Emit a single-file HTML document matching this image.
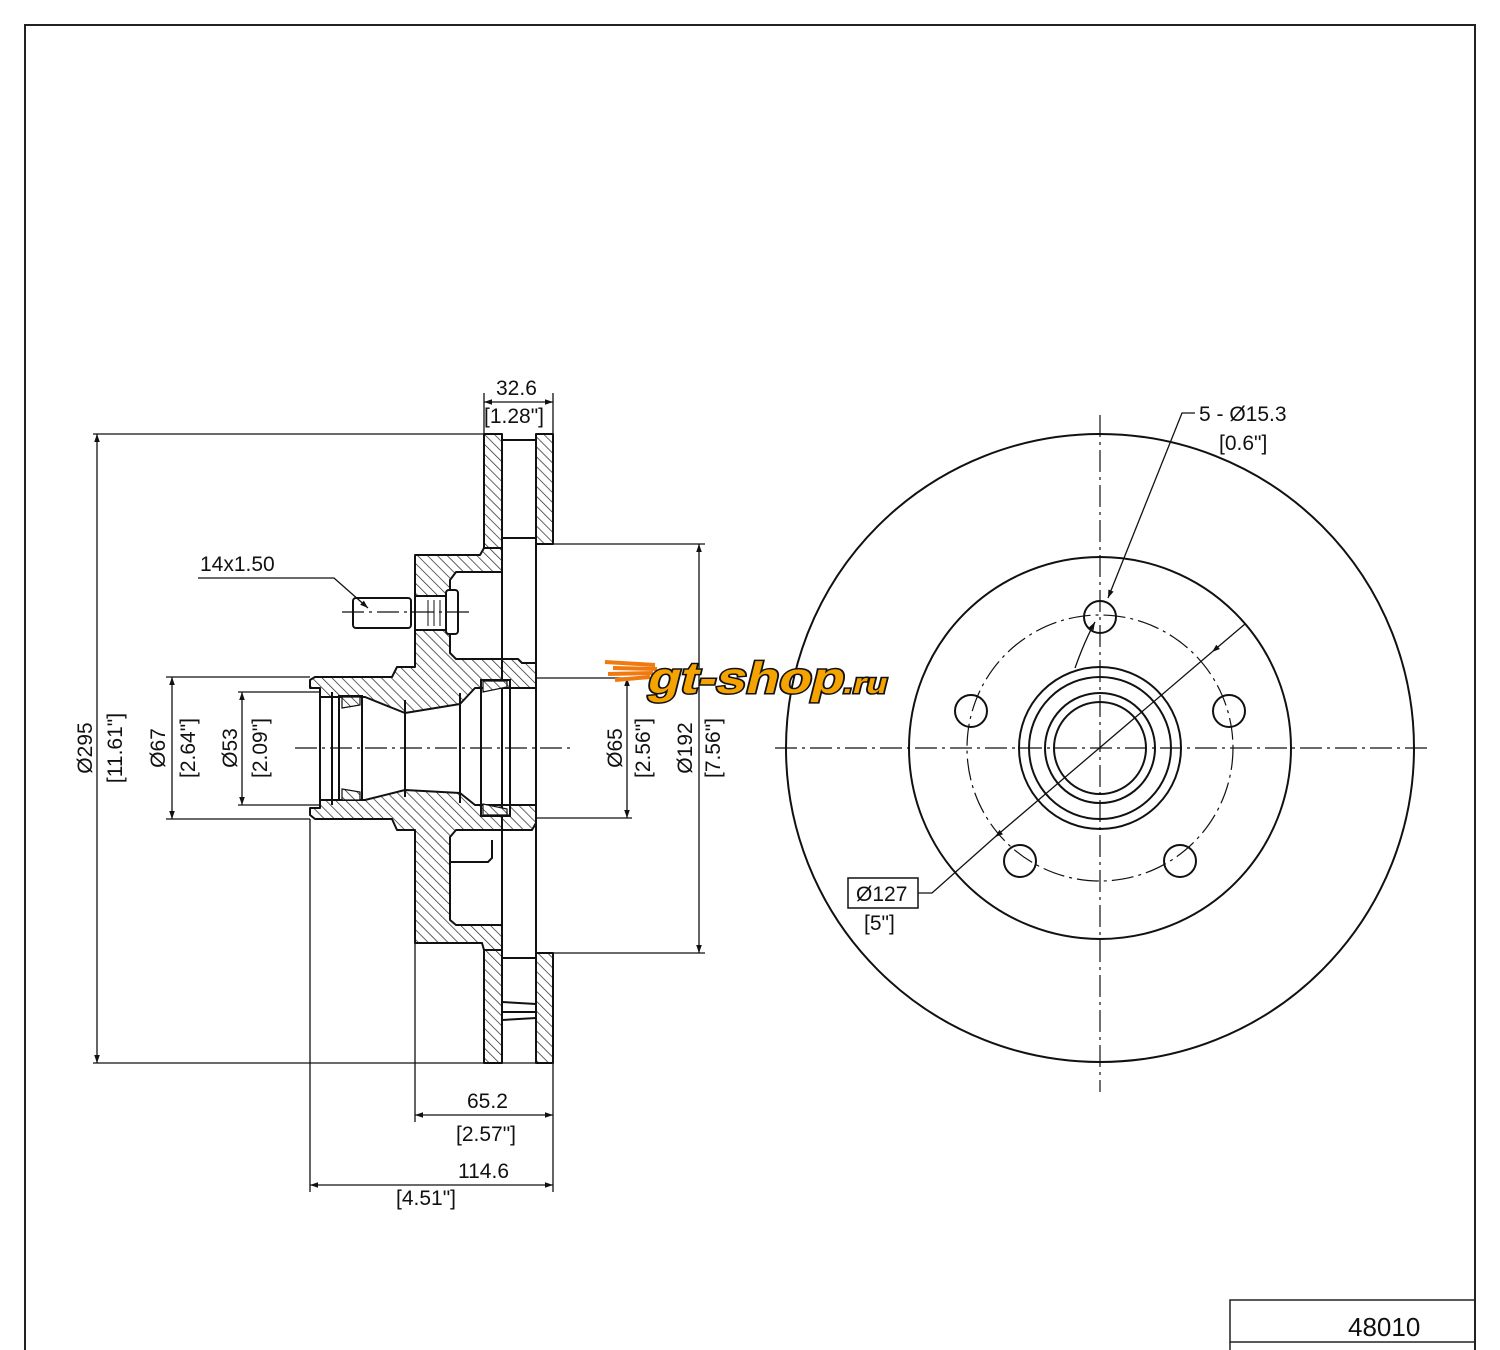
<!DOCTYPE html>
<html><head><meta charset="utf-8"><style>
html,body{margin:0;padding:0;background:#fff}
svg{display:block}
text{font-family:"Liberation Sans Narrow","Liberation Sans",sans-serif;font-size:21px;fill:#111}
</style></head><body>
<svg width="1500" height="1350" viewBox="0 0 1500 1350" xmlns="http://www.w3.org/2000/svg">
<defs>
<pattern id="h" patternUnits="userSpaceOnUse" width="7" height="7" patternTransform="rotate(-45)">
<rect width="7" height="7" fill="#fff"/><line x1="0" y1="0" x2="0" y2="7" stroke="#222" stroke-width="1.4"/>
</pattern>
<marker id="a" viewBox="0 0 10 10" refX="10" refY="5" markerWidth="14" markerHeight="8" orient="auto-start-reverse" markerUnits="userSpaceOnUse"><path d="M0,1.5 L10,5 L0,8.5 Z" fill="#111"/></marker>
</defs>
<path d="M25,1350 V25 H1475 V1350" fill="none" stroke="#222" stroke-width="2"/>
<rect x="1230" y="1300" width="245" height="42" fill="none" stroke="#222" stroke-width="1.5"/>
<line x1="1230" y1="1342" x2="1230" y2="1350" stroke="#222" stroke-width="1.5"/>
<text x="1348" y="1336" style="font-size:26px">48010</text>

<g stroke="#111" stroke-width="2" fill="url(#h)" stroke-linejoin="round">
<rect x="484" y="434" width="18" height="114"/>
<rect x="536" y="434" width="17" height="110"/>
<rect x="484" y="950" width="18" height="113"/>
<rect x="536" y="953" width="17" height="110"/>
<path d="M484,548 L502,548 L502,572 L456,572 L450,580 L450,653 L456,659 L518,659 L522,663 L536,663 L536,678 L536,688 L475,688 L460,704 L405,713 L365,697 L320,697 L320,688 L310,688 L310,680 L315,677 L392,677 L397,667 L415,667 L415,555 L480,555 Z"/>
<path d="M310,808 L320,808 L320,800 L365,800 L405,790 L460,793 L475,805 L536,805 L536,823 L532,830 L456,830 L450,837 L450,920 L456,925 L502,925 L502,950 L484,950 L482,943 L415,943 L415,830 L397,830 L392,819 L315,819 L310,815 Z"/>
</g>
<g stroke="#111" stroke-width="2" fill="none">
<line x1="320" y1="688" x2="320" y2="808"/>
<line x1="332" y1="692" x2="332" y2="805"/>
<path d="M339,696 L362,696 L362,800 L339,800 Z"/>
<line x1="405" y1="700" x2="405" y2="797"/>
<path d="M460,693 L460,803"/>
<path d="M481,680 L510,680 L510,816 L481,816 Z"/>
<line x1="536" y1="663" x2="536" y2="835"/>
<line x1="502" y1="572" x2="502" y2="925"/>
<line x1="536" y1="544" x2="536" y2="953"/>
<line x1="502" y1="440" x2="536" y2="440"/>
<line x1="502" y1="538" x2="536" y2="538"/>
<line x1="502" y1="958" x2="536" y2="958"/>
<path d="M450,862 L488,862 L492,858 L492,840"/>
<line x1="502" y1="1002" x2="536" y2="1004"/>
<line x1="502" y1="1012" x2="536" y2="1012"/>
<line x1="502" y1="1020" x2="536" y2="1018"/>
<rect x="353" y="598" width="58" height="30" rx="3" fill="#fff"/>
<rect x="415" y="596" width="32" height="34" fill="#fff"/>
<rect x="446" y="590" width="12" height="44" rx="3" fill="#fff"/>
<line x1="428" y1="600" x2="428" y2="626" stroke-width="1"/><line x1="434" y1="600" x2="434" y2="626" stroke-width="1"/><line x1="440" y1="600" x2="440" y2="626" stroke-width="1"/>
</g>
<g stroke="#111" stroke-width="1.2" fill="url(#h)">
<path d="M342,697 L360,697 L360,705 L342,708 Z"/><path d="M342,800 L360,800 L360,792 L342,789 Z"/>
<path d="M483,681 L507,681 L507,687 L483,692 Z"/><path d="M483,815 L507,815 L507,809 L483,804 Z"/>
</g>
<g stroke="#111" stroke-width="1.2" stroke-dasharray="22,5,3,5" fill="none">
<line x1="295" y1="748" x2="570" y2="748"/>
<line x1="342" y1="612" x2="472" y2="612"/>
<line x1="775" y1="748" x2="1430" y2="748"/>
<line x1="1100" y1="415" x2="1100" y2="1092"/>
<circle cx="1100" cy="748" r="133"/>
</g>
<g stroke="#111" stroke-width="1.3" fill="none">
<line x1="93" y1="434" x2="484" y2="434"/><line x1="93" y1="1063" x2="553" y2="1063"/>
<line x1="97" y1="434" x2="97" y2="1063" marker-start="url(#a)" marker-end="url(#a)"/>
<line x1="166" y1="677" x2="310" y2="677"/><line x1="166" y1="819" x2="310" y2="819"/>
<line x1="172" y1="677" x2="172" y2="819" marker-start="url(#a)" marker-end="url(#a)"/>
<line x1="238" y1="692" x2="320" y2="692"/><line x1="238" y1="805" x2="320" y2="805"/>
<line x1="242" y1="692" x2="242" y2="805" marker-start="url(#a)" marker-end="url(#a)"/>
<line x1="536" y1="678" x2="632" y2="678"/><line x1="536" y1="818" x2="632" y2="818"/>
<line x1="627" y1="678" x2="627" y2="818" marker-start="url(#a)" marker-end="url(#a)"/>
<line x1="553" y1="544" x2="705" y2="544"/><line x1="553" y1="953" x2="705" y2="953"/>
<line x1="699" y1="544" x2="699" y2="953" marker-start="url(#a)" marker-end="url(#a)"/>
<line x1="484" y1="393" x2="484" y2="434"/><line x1="553" y1="393" x2="553" y2="434"/>
<line x1="484" y1="402" x2="553" y2="402" marker-start="url(#a)" marker-end="url(#a)"/>
<line x1="415" y1="943" x2="415" y2="1122"/><line x1="553" y1="1063" x2="553" y2="1192"/>
<line x1="415" y1="1115" x2="553" y2="1115" marker-start="url(#a)" marker-end="url(#a)"/>
<line x1="310" y1="819" x2="310" y2="1192"/>
<line x1="310" y1="1185" x2="553" y2="1185" marker-start="url(#a)" marker-end="url(#a)"/>
<path d="M198,578 L334,578 L368,608" marker-end="url(#a)"/>
</g>
<text x="496" y="395">32.6</text><text x="484" y="423">[1.28"]</text>
<text x="200" y="571">14x1.50</text>
<text x="467" y="1108">65.2</text><text x="456" y="1141">[2.57"]</text>
<text x="458" y="1178">114.6</text><text x="396" y="1205">[4.51"]</text>
<g>
<text transform="translate(92,748) rotate(-90)" text-anchor="middle">Ø295</text>
<text transform="translate(122,748) rotate(-90)" text-anchor="middle">[11.61"]</text>
<text transform="translate(165,748) rotate(-90)" text-anchor="middle">Ø67</text>
<text transform="translate(195,748) rotate(-90)" text-anchor="middle">[2.64"]</text>
<text transform="translate(237,748) rotate(-90)" text-anchor="middle">Ø53</text>
<text transform="translate(267,748) rotate(-90)" text-anchor="middle">[2.09"]</text>
<text transform="translate(622,748) rotate(-90)" text-anchor="middle">Ø65</text>
<text transform="translate(650,748) rotate(-90)" text-anchor="middle">[2.56"]</text>
<text transform="translate(692,748) rotate(-90)" text-anchor="middle">Ø192</text>
<text transform="translate(720,748) rotate(-90)" text-anchor="middle">[7.56"]</text>
</g>
<g stroke="#111" stroke-width="2" fill="none">
<circle cx="1100" cy="748" r="314"/>
<circle cx="1100" cy="748" r="191"/>
<circle cx="1100" cy="748" r="81"/>
<circle cx="1100" cy="748" r="71"/>
<circle cx="1100" cy="748" r="55"/>
<circle cx="1100" cy="748" r="46"/>
<circle cx="1100" cy="617" r="16"/>
<circle cx="971" cy="711" r="16"/>
<circle cx="1229" cy="711" r="16"/>
<circle cx="1020" cy="861" r="16"/>
<circle cx="1180" cy="861" r="16"/>
</g>
<g stroke="#111" stroke-width="1.3" fill="none">
<line x1="1245" y1="624" x2="1212" y2="652" marker-end="url(#a)"/>
<line x1="1212" y1="652" x2="995" y2="837"/>
<line x1="1000" y1="833" x2="995" y2="837" marker-end="url(#a)"/>
<path d="M918,893 L932,893 L995,837"/>
<path d="M1195,413 L1182,413 L1108,598" marker-end="url(#a)"/>
<path d="M1075,668 Q1085,640 1095,622" marker-end="url(#a)"/>
<rect x="848" y="878" width="70" height="30" stroke-width="1.5"/>
</g>
<text x="856" y="901">Ø127</text><text x="864" y="930">[5"]</text>
<text x="1199" y="421">5 - Ø15.3</text><text x="1219" y="450">[0.6"]</text>
<g transform="translate(605,655)">
<path d="M0,7 L50,10 M8,13 L52,14 M3,19 L48,18 M10,25 L45,22" stroke="#f07a10" stroke-width="4"/>
<text x="50" y="38" transform="skewX(-14)" textLength="240" lengthAdjust="spacingAndGlyphs" style="font-family:'Liberation Sans',sans-serif;font-weight:bold;font-size:44px;fill:#f5a300;stroke:#111;stroke-width:3;paint-order:stroke">gt-shop<tspan style="font-size:28px">.ru</tspan></text>
</g>
</svg>
</body></html>
